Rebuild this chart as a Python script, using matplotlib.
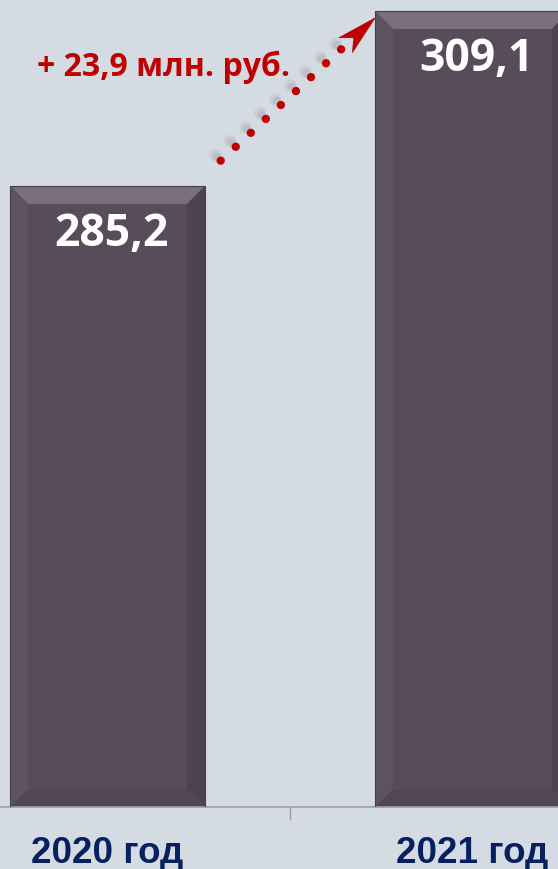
import matplotlib
matplotlib.use("Agg")
import matplotlib.pyplot as plt
import numpy as np
from matplotlib.patches import Polygon
from matplotlib.transforms import IdentityTransform
import matplotlib.patheffects as pe

categories = ["2020 год", "2021 год"]
values = [285.2, 309.1]
value_labels = ["285,2", "309,1"]
delta_label = "+ 23,9 млн. руб."

BG = "#d5dbe3"
BAR = "#574c5a"
RED = "#c00000"
W, H, DPI = 5.58, 8.70, 100

fig = plt.figure(figsize=(W, H), dpi=DPI, facecolor=BG)
ax = fig.add_axes([-75 / 558, 62 / 870, 730 / 558, 808 / 870])
ax.set_facecolor(BG)
x = list(range(len(categories)))
bw = 0.534
bars = ax.bar(x, values, width=bw, color=BAR, edgecolor="none", zorder=2)
ax.set_xlim(-0.5, 1.5)
ax.set_ylim(200.39, 310.74)

for s in ["top", "left", "right"]:
    ax.spines[s].set_visible(False)
ax.spines["bottom"].set_color("#a0a0a0")
ax.spines["bottom"].set_linewidth(1.2)
ax.set_yticks([])
ax.set_xticks([-0.5, 0.5, 1.5])
ax.set_xticklabels([])
ax.tick_params(axis="x", which="major", length=9.4, width=1, color="#a0a0a0")
ax.set_xticks(x, minor=True)
ax.set_xticklabels(categories, minor=True, fontsize=26.5, fontweight="bold",
                   color="#072160", family=["Liberation Sans", "DejaVu Sans"])
ax.tick_params(axis="x", which="minor", length=0, pad=20)

# bevel effect
b = 18
for r in bars:
    (x0, y0) = ax.transData.transform((r.get_x(), 200.39))
    (x1, y1) = ax.transData.transform((r.get_x() + r.get_width(), r.get_height()))
    polys = [
        ([(x0, y1), (x1, y1), (x1 - b, y1 - b), (x0 + b, y1 - b)], "#7a6e7f"),
        ([(x0, y1), (x0 + b, y1 - b), (x0 + b, y0 + b), (x0, y0)], "#5d5262"),
        ([(x1, y1), (x1 - b, y1 - b), (x1 - b, y0 + b), (x1, y0)], "#4d4250"),
        ([(x0, y0), (x0 + b, y0 + b), (x1 - b, y0 + b), (x1, y0)], "#514654"),
    ]
    for pts, c in polys:
        ax.add_patch(Polygon(pts, closed=True, facecolor=c, edgecolor="none",
                             transform=IdentityTransform(), zorder=2.5))
    ax.add_patch(Polygon([(x0, y0), (x0, y1), (x1, y1), (x1, y0)], closed=True,
                         facecolor="none", edgecolor="#454048", linewidth=0.8,
                         transform=IdentityTransform(), zorder=2.6))

for xi, v, lab in zip(x, values, value_labels):
    ax.annotate(lab, (xi, v), xytext=(3, -18), textcoords="offset points",
                ha="center", va="top", color="white", fontsize=32, fontweight="bold",
                family=["Open Sans", "DejaVu Sans"], zorder=4)

# dotted arrow from bar 1 to bar 2
sx = x[0] + bw / 2 + 0.043
sy = values[0] + 3.46
ex = x[1] - bw / 2
ey = values[1] - 0.95
frac = 0.8
fx = sx + (ex - sx) * frac
fy = sy + (ey - sy) * frac
ax.plot([sx, fx], [sy, fy], color=RED, linestyle=(0, (0.01, 2.45)), lw=6,
        dash_capstyle="round", zorder=3,
        path_effects=[pe.SimpleLineShadow(offset=(-4, 4), shadow_color="#8a8a8a", alpha=0.15, linewidth=9),
                      pe.SimpleLineShadow(offset=(-3, 3), shadow_color="#8a8a8a", alpha=0.2),
                      pe.Normal()])

# stealth arrow head (display coords derived from the data points)
S = ax.transData.transform((sx, sy))
T = ax.transData.transform((ex, ey))
u = (T - S) / np.hypot(*(T - S))
n = np.array([-u[1], u[0]])
head = [T, T - 40 * u + 10 * n, T - 29 * u, T - 40 * u - 10 * n]
ax.add_patch(Polygon(head, closed=True, facecolor=RED, edgecolor=RED, lw=0.5,
                     transform=IdentityTransform(), zorder=3))

ax.text(37 / 558, 1 - 76 / 870, delta_label, transform=fig.transFigure,
        ha="left", va="baseline", color=RED, fontsize=23, fontweight="bold",
        family=["Open Sans", "DejaVu Sans"])

fig.savefig("out.png", dpi=DPI, facecolor=BG)
